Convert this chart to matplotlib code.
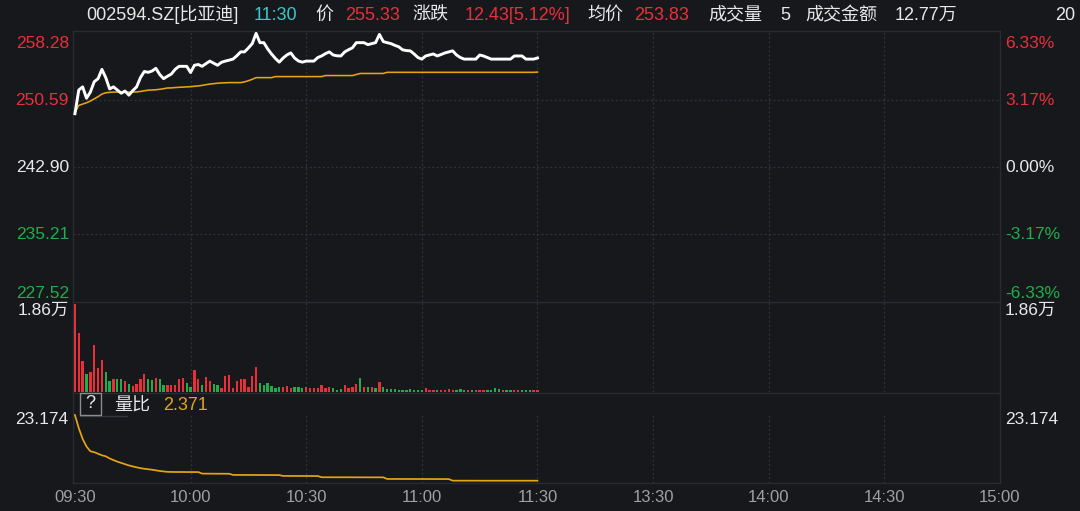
import matplotlib
matplotlib.use("Agg")
import matplotlib.pyplot as plt
import matplotlib.patches as mpatches
from matplotlib.transforms import blended_transform_factory
import numpy as np

W, H = 1080, 511
BG = "#16181c"
FRAME = "#282b30"
GRID = "#31343a"
WHITE = "#e8e8e8"
GRAY = "#a0a0a0"
RED = "#ea2f3b"
GREEN = "#22ad4c"
CYAN = "#3ec6c8"
ORANGE = "#e5a512"

plt.rcParams["font.family"] = ["Liberation Sans", "Noto Sans CJK SC", "DejaVu Sans"]

# ---- data -------------------------------------------------------------
PRE_CLOSE = 242.90
price_levels = [258.28, 250.59, 242.90, 235.21, 227.52]
pct_levels = ["6.33%", "3.17%", "0.00%", "-3.17%", "-6.33%"]
VOL_MAX = 18600
RATIO_MAX = 23.174
RATIO_LAST = 2.371

time_labels = ["09:30", "10:00", "10:30", "11:00", "11:30", "13:30", "14:00", "14:30", "15:00"]
time_minutes = [0, 30, 60, 90, 120, 150, 180, 210, 240]

# one value per minute, 09:30 .. 11:30
price = [
    249.05, 251.77, 252.13, 250.82, 251.53, 252.72, 253.07, 254.14, 253.19, 251.89,
    252.13, 251.77, 251.40, 251.65, 251.18, 251.70, 252.13, 253.19, 253.90, 253.80,
    253.95, 254.26, 253.55, 253.07, 253.35, 253.60, 254.14, 254.49, 254.49, 254.49,
    253.78, 254.61, 254.70, 254.49, 254.80, 255.09, 254.85, 254.61, 254.95, 255.09,
    255.20, 255.32, 255.70, 256.15, 256.15, 256.60, 257.10, 258.28, 257.21, 257.21,
    256.50, 255.91, 255.40, 254.97, 255.44, 255.80, 256.03, 255.44, 255.10, 254.97,
    255.09, 255.09, 255.09, 255.50, 255.68, 255.95, 256.15, 255.79, 255.70, 255.68,
    256.15, 256.40, 256.62, 257.21, 257.21, 257.21, 256.98, 257.10, 257.21, 258.16,
    257.33, 257.21, 257.10, 256.90, 256.74, 256.39, 256.30, 256.27, 255.91, 255.50,
    255.32, 255.68, 255.80, 255.91, 255.68, 255.85, 256.03, 256.15, 256.27, 255.79,
    255.50, 255.32, 255.32, 255.32, 255.32, 255.79, 255.68, 255.50, 255.32, 255.32,
    255.32, 255.32, 255.32, 255.32, 255.68, 255.68, 255.68, 255.32, 255.32, 255.32,
    255.45,
]

avg_price = [
    249.17, 250.00, 250.15, 250.30, 250.50, 250.75, 251.00, 251.30, 251.45, 251.50,
    251.53, 251.53, 251.53, 251.53, 251.53, 251.53, 251.55, 251.60, 251.68, 251.75,
    251.77, 251.80, 251.85, 251.92, 252.00, 252.01, 252.05, 252.08, 252.10, 252.13,
    252.15, 252.20, 252.24, 252.30, 252.38, 252.45, 252.50, 252.55, 252.58, 252.60,
    252.62, 252.62, 252.62, 252.62, 252.70, 252.84, 253.00, 253.19, 253.19, 253.19,
    253.19, 253.19, 253.31, 253.31, 253.31, 253.31, 253.31, 253.31, 253.31, 253.31,
    253.31, 253.31, 253.31, 253.31, 253.31, 253.43, 253.43, 253.43, 253.43, 253.43,
    253.43, 253.43, 253.43, 253.55, 253.67, 253.67, 253.67, 253.67, 253.67, 253.67,
    253.67, 253.80, 253.80, 253.80, 253.80, 253.80, 253.80, 253.80, 253.80, 253.80,
    253.80, 253.80, 253.80, 253.80, 253.80, 253.80, 253.80, 253.80, 253.80, 253.80,
    253.80, 253.80, 253.80, 253.80, 253.80, 253.80, 253.80, 253.80, 253.80, 253.80,
    253.80, 253.80, 253.80, 253.80, 253.80, 253.80, 253.80, 253.80, 253.80, 253.80,
    253.83,
]

volume = [
    18600, 12500, 6550, 3870, 4210, 9880, 5140, 6840, 4210, 2300,
    2800, 2750, 2750, 2300, 1600, 1170, 1700, 2800, 3870, 2700,
    2500, 3050, 2700, 1400, 1400, 1400, 1400, 2800, 2900, 1900,
    1050, 4570, 2750, 1500, 3200, 2300, 1750, 1450, 800, 3300,
    3600, 900, 2300, 2750, 2750, 1150, 3300, 5270, 1900, 1450,
    1900, 1300, 900, 1150, 1000, 1300, 900, 1150, 1000, 900,
    1000, 900, 800, 900, 1400, 800, 1150, 900, 400, 650,
    1500, 800, 1000, 1750, 3000, 1150, 1000, 1150, 900, 2050,
    1150, 650, 650, 650, 500, 500, 450, 650, 500, 500,
    400, 800, 500, 400, 500, 400, 400, 650, 400, 400,
    650, 400, 400, 500, 400, 500, 500, 400, 500, 800,
    650, 400, 500, 400, 500, 500, 400, 500, 400, 400,
    400,
]

vol_side = (
    "rrrgrrrrgg" "rggrgrrrrg" "grggrrrrrg" "grrgrrggrr" "rrrrrrrrgg"
    "ggggrrrggg" "rrrrrrrggg" "rrrrgrgrgr" "gggggggggg" "grrrgrrrrg"
    "ggrgrrrggg" "grggrrgggr" "r"
)

vol_ratio = [
    23.17, 19.00, 15.60, 13.20, 11.70, 11.40, 10.90, 10.40, 10.10, 9.40,
    8.90, 8.40, 8.00, 7.60, 7.20, 6.90, 6.60, 6.35, 6.15, 6.00,
    5.85, 5.65, 5.45, 5.30, 5.18, 5.14, 5.13, 5.12, 5.12, 5.11,
    5.11, 5.10, 5.10, 4.62, 4.60, 4.60, 4.59, 4.58, 4.58, 4.57,
    4.57, 4.20, 4.19, 4.19, 4.18, 4.18, 4.18, 4.17, 4.17, 4.16,
    4.16, 4.16, 4.15, 4.15, 3.88, 3.88, 3.87, 3.87, 3.87, 3.86,
    3.86, 3.86, 3.85, 3.85, 3.46, 3.46, 3.46, 3.45, 3.45, 3.45,
    3.45, 3.45, 3.44, 3.44, 3.44, 3.44, 3.43, 3.43, 3.43, 3.43,
    3.42, 2.92, 2.92, 2.92, 2.91, 2.91, 2.91, 2.91, 2.90, 2.90,
    2.90, 2.90, 2.90, 2.89, 2.89, 2.89, 2.89, 2.88, 2.38, 2.38,
    2.38, 2.38, 2.38, 2.38, 2.38, 2.37, 2.37, 2.37, 2.37, 2.37,
    2.37, 2.37, 2.37, 2.37, 2.37, 2.37, 2.37, 2.37, 2.37, 2.37,
    2.371,
]


def fx(x):
    return x / W


def fy(y):
    return 1 - y / H


def panel(fig, top, bottom, grid_top=None, left=73, right=1000):
    ax = fig.add_axes((fx(left), fy(bottom), (right - left) / W, (bottom - top) / H))
    ax.set_facecolor(BG)
    ax.set_xlim(-0.5, 240)
    ax.set_xticks([])
    ax.set_yticks([])
    for s in ax.spines.values():
        s.set_color(FRAME)
        s.set_linewidth(1)
    ymax = 1 if grid_top is None else (bottom - grid_top) / (bottom - top)
    for m in time_minutes[1:-1]:
        ax.axvline(m, ymin=0, ymax=ymax, color=GRID, lw=0.9, ls=(0, (1.5, 2)), zorder=0)
    return ax


def main():
    fig = plt.figure(figsize=(W / 100, H / 100), dpi=100)
    fig.patch.set_facecolor(BG)
    minutes = np.arange(len(price))

    # ---- price panel
    axp = panel(fig, 31, 301)
    axp.set_ylim(227.52, 258.55)
    axp.spines["bottom"].set_visible(False)
    for lv in price_levels[1:-1]:
        axp.axhline(lv, color=GRID, lw=0.9, ls=(0, (1.5, 2)), zorder=0)
    axp.plot(minutes, avg_price, color=ORANGE, lw=1.15, zorder=3)
    axp.plot(minutes, price, color="white", lw=2.1, zorder=4)

    colors = [RED, RED, WHITE, GREEN, GREEN]
    tr_l = blended_transform_factory(fig.transFigure, axp.transData)
    for i, (lv, pc, c) in enumerate(zip(price_levels, pct_levels, colors)):
        va = "top" if i == 0 else ("bottom" if i == len(price_levels) - 1 else "center")
        yv = lv - 0.35 if i == 0 else lv
        axp.text(fx(69), yv, f"{lv:.2f}", transform=tr_l, ha="right", va=va,
                 color=c, fontsize=12.5)
        axp.text(fx(1005), yv, pc, transform=tr_l, ha="left", va=va,
                 color=c, fontsize=12.5)

    # ---- volume panel
    axv = panel(fig, 302, 392)
    axv.set_ylim(0, 19050)
    axv.spines["bottom"].set_visible(False)
    bar_colors = [RED if s == "r" else GREEN for s in vol_side]
    axv.bar(minutes, volume, width=0.6, color=bar_colors, zorder=3)
    fig.text(fx(69), fy(310), "1.86万", ha="right", va="center", color=WHITE, fontsize=12.5)
    fig.text(fx(1005), fy(310), "1.86万", ha="left", va="center", color=WHITE, fontsize=12.5)

    # ---- volume ratio panel
    axr = panel(fig, 393, 483, grid_top=414)
    axr.set_ylim(1.64, 30.14)
    axr.plot(minutes, vol_ratio, color=ORANGE, lw=1.25, zorder=3)
    fig.text(fx(68), fy(420), f"{RATIO_MAX:.3f}", ha="right", va="center", color=WHITE, fontsize=12.5)
    fig.text(fx(1005), fy(420), f"{RATIO_MAX:.3f}", ha="left", va="center", color=WHITE, fontsize=12.5)

    box = mpatches.Rectangle((fx(80), fy(415)), 21 / W, 22 / H, transform=fig.transFigure,
                             facecolor=BG, edgecolor="#8c8c8c", lw=1, zorder=5)
    fig.add_artist(box)
    fig.text(fx(90.5), fy(404), "?", ha="center", va="center", color=WHITE, fontsize=13, zorder=6)
    fig.add_artist(plt.Line2D([fx(80), fx(127)], [fy(416), fy(416)], transform=fig.transFigure,
                              color="#34373c", lw=1))
    fig.text(fx(114), fy(406), "量比", ha="left", va="center", color=WHITE, fontsize=13)
    fig.text(fx(163), fy(406), f"{RATIO_LAST:.3f}", ha="left", va="center", color=ORANGE, fontsize=13)

    # ---- time axis labels
    tr_x = blended_transform_factory(axr.transData, fig.transFigure)
    for m, lab in zip(time_minutes, time_labels):
        axr.text(m, fy(497), lab, transform=tr_x, ha="center", va="center",
                 color=GRAY, fontsize=12, clip_on=False)

    # ---- header
    header = [
        (86, "002594.SZ[比亚迪]", WHITE),
        (254, "11:30", CYAN),
        (315, "价", WHITE),
        (345, "255.33", RED),
        (412, "涨跌", WHITE),
        (465, "12.43[5.12%]", RED),
        (587, "均价", WHITE),
        (634, "253.83", RED),
        (708, "成交量", WHITE),
        (780, "5", WHITE),
        (805, "成交金额", WHITE),
        (895, "12.77万", WHITE),
        (1055, "20", WHITE),
    ]
    for x, s, c in header:
        fig.text(fx(x), fy(15), s, ha="left", va="center", color=c, fontsize=13)

    fig.savefig("out.png", facecolor=BG, dpi=100)
    plt.close(fig)


if __name__ == "__main__":
    main()
